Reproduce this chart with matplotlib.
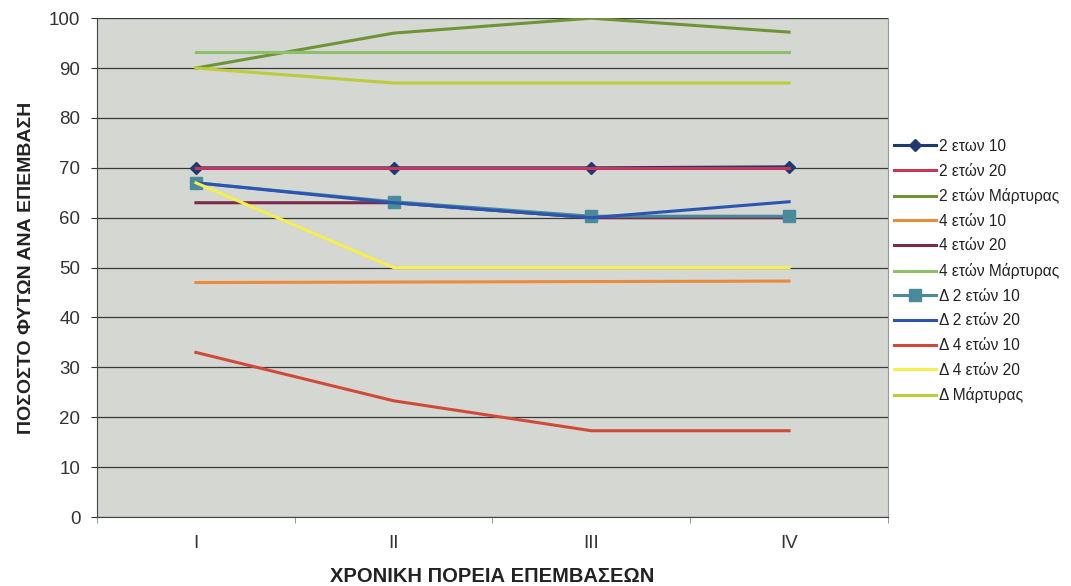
import matplotlib
matplotlib.use("Agg")
import matplotlib.pyplot as plt
import numpy as np

plt.rcParams["font.family"] = ["Liberation Sans", "DejaVu Sans"]

categories = ["I", "II", "III", "IV"]
s_2y10 = [70, 70, 70, 70.2]
s_2y20 = [70, 70, 70, 70]
s_2yM = [90, 97, 100, 97.2]
s_4y10 = [47, 47.1, 47.2, 47.3]
s_4y20 = [63, 63, 60, 60]
s_4yM = [93.3, 93.3, 93.3, 93.3]
s_d2y10 = [67, 63.2, 60.3, 60.3]
s_d2y20 = [67, 63, 60, 63.2]
s_d4y10 = [33, 23.3, 17.3, 17.3]
s_d4y20 = [67, 50, 50, 50]
s_dM = [90, 87, 87, 87]

series = [
    ("2 ετων 10", s_2y10, "#1f3a6e", "D", 6),
    ("2 ετών 20", s_2y20, "#c8355a", None, 0),
    ("2 ετών Μάρτυρας", s_2yM, "#6e9436", None, 0),
    ("4 ετών 10", s_4y10, "#e88b3a", None, 0),
    ("4 ετών 20", s_4y20, "#7a2a4a", None, 0),
    ("4 ετών Μάρτυρας", s_4yM, "#8cc06a", None, 0),
    ("Δ 2 ετών 10", s_d2y10, "#4a8a9a", "s", 9),
    ("Δ 2 ετών 20", s_d2y20, "#2a55b0", None, 0),
    ("Δ 4 ετών 10", s_d4y10, "#d04a3a", None, 0),
    ("Δ 4 ετών 20", s_d4y20, "#f5f050", None, 0),
    ("Δ Μάρτυρας", s_dM, "#bccc3a", None, 0),
]

fig = plt.figure(figsize=(10.71, 5.86), dpi=100)
ax = fig.add_axes([0.0906, 0.1177, 0.7385, 0.8513])
ax.set_facecolor("#d5d7d3")

x = np.arange(1, len(categories) + 1)
draw_order = [0, 2, 3, 5, 10, 4, 6, 1, 7, 9, 8]
handles = {}
for i in draw_order:
    name, vals, col, mk, ms = series[i]
    h, = ax.plot(x, vals, color=col, lw=2.2, marker=mk, markersize=ms,
                 markerfacecolor=col, markeredgecolor=col, label=name,
                 zorder=3 + i * 0.1)
    handles[i] = h

ax.set_xlim(0.5, 4.5)
ax.set_ylim(0, 100)
ax.set_yticks(range(0, 101, 10))
ax.set_xticks(x)
ax.set_xticklabels(categories)
ax.set_xticks(np.arange(0.5, 4.6, 1), minor=True)
ax.tick_params(axis="x", which="major", length=0, pad=13, labelsize=13.5, colors="#333333")
ax.tick_params(axis="x", which="minor", length=4, color="#888888")
ax.tick_params(axis="y", length=4, labelsize=13.5, colors="#333333", pad=8)
ax.grid(axis="y", color="#3a3a3a", lw=0.9, zorder=1)
ax.set_axisbelow(True)
ax.spines["top"].set_visible(False)
ax.spines["right"].set_color("#999999")
ax.spines["left"].set_color("#444444")
ax.spines["bottom"].set_color("#444444")

ax.set_xlabel("ΧΡΟΝΙΚΗ ΠΟΡΕΙΑ ΕΠΕΜΒΑΣΕΩΝ", fontsize=14.5, fontweight="bold",
              color="#222222", labelpad=11)
ax.set_ylabel("ΠΟΣΟΣΤΟ ΦΥΤΩΝ ΑΝΑ ΕΠΕΜΒΑΣΗ", fontsize=14, fontweight="bold",
              color="#222222", labelpad=10)

leg = ax.legend([handles[i] for i in range(len(series))],
                [s[0] for s in series],
                loc="upper left", bbox_to_anchor=(1.007, 0.758), frameon=False,
                fontsize=11.2, handlelength=2.7, labelspacing=0.62,
                handletextpad=0.2, borderaxespad=0, borderpad=0)
for t in leg.get_texts():
    t.set_color("#222222")

fig.savefig("out.png", dpi=100, facecolor="white")
